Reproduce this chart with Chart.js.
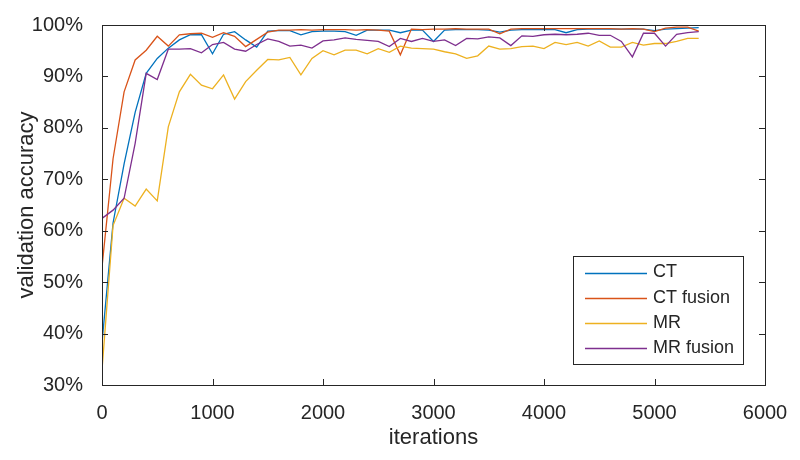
<!DOCTYPE html>
<html>
<head>
<meta charset="utf-8">
<script src="https://cdn.jsdelivr.net/npm/chart.js@4.4.1/dist/chart.umd.min.js"></script>
<style>
  html, body { margin: 0; padding: 0; background: #fff; }
  #wrap { width: 800px; height: 460px; position: relative; }
</style>
</head>
<body>
<div id="wrap"><canvas id="accChart"></canvas></div>
<script>
// x values (iterations)
const iterations = [0, 100, 200, 300, 400, 500, 600, 700, 800, 900,
  1000, 1100, 1200, 1300, 1400, 1500, 1600, 1700, 1800, 1900,
  2000, 2100, 2200, 2300, 2400, 2500, 2600, 2700, 2800, 2900,
  3000, 3100, 3200, 3300, 3400, 3500, 3600, 3700, 3800, 3900,
  4000, 4100, 4200, 4300, 4400, 4500, 4600, 4700, 4800, 4900,
  5000, 5100, 5200, 5300, 5400];

// validation accuracy (%)
const ct = [38.2, 61.5, 73.0, 83.0, 90.6, 93.5, 95.5, 97.1, 98.1, 98.1,
  94.4, 98.2, 98.7, 97.1, 95.7, 98.8, 98.9, 98.9, 98.1, 98.7,
  98.8, 98.8, 98.7, 98.0, 99.0, 99.0, 99.0, 98.5, 99.0, 99.0,
  96.8, 99.0, 99.1, 99.1, 99.1, 99.0, 98.6, 99.0, 99.1, 99.1,
  99.1, 99.1, 98.5, 99.1, 99.2, 99.2, 99.2, 99.2, 99.2, 99.2,
  98.9, 99.2, 99.3, 99.4, 99.5];
const ctFusion = [52.9, 74.0, 87.0, 93.2, 95.1, 97.8, 95.9, 98.1, 98.3, 98.4,
  97.6, 98.5, 97.8, 95.8, 97.2, 98.6, 99.0, 99.0, 99.1, 99.0,
  99.1, 99.1, 99.1, 99.0, 99.1, 99.0, 98.8, 94.2, 99.2, 99.1,
  99.2, 99.2, 99.3, 99.2, 99.2, 99.2, 98.3, 99.2, 99.3, 99.3,
  99.3, 99.3, 99.3, 99.3, 99.3, 99.3, 99.3, 99.2, 99.3, 99.2,
  98.7, 99.4, 99.6, 99.6, 98.8];
const mr = [32.9, 61.0, 66.3, 64.8, 68.1, 65.8, 80.2, 87.0, 90.4, 88.3,
  87.6, 90.3, 85.6, 89.0, 91.2, 93.3, 93.2, 93.7, 90.3, 93.5,
  95.0, 94.2, 95.1, 95.1, 94.4, 95.4, 94.7, 95.9, 95.5, 95.4,
  95.3, 94.8, 94.4, 93.5, 94.0, 95.9, 95.3, 95.4, 95.8, 95.9,
  95.4, 96.6, 96.2, 96.6, 95.9, 96.9, 95.7, 95.7, 96.6, 96.1,
  96.4, 96.4, 96.8, 97.4, 97.4];
const mrFusion = [62.4, 64.0, 66.3, 77.0, 90.6, 89.4, 95.3, 95.3, 95.4, 94.6,
  96.2, 96.6, 95.3, 94.9, 96.2, 97.3, 96.8, 95.9, 96.1, 95.5,
  96.9, 97.1, 97.5, 97.2, 97.0, 96.8, 95.8, 97.4, 96.8, 97.4,
  96.8, 97.1, 96.0, 97.4, 97.3, 97.7, 97.5, 96.0, 97.9, 97.8,
  98.1, 98.2, 98.1, 98.2, 98.4, 98.0, 98.0, 96.8, 93.8, 98.4,
  98.4, 95.9, 98.2, 98.5, 98.7];

const seriesNames = ['CT', 'CT fusion', 'MR', 'MR fusion'];
const seriesColors = ['#0072BD', '#D95319', '#EDB120', '#7E2F8E'];
const seriesValues = [ct, ctFusion, mr, mrFusion];

const FONT = '"Liberation Sans", Arial, Helvetica, sans-serif';
const INK = '#262626';

// box frame + inward ticks on all four sides (matlab style)
const boxTicks = {
  id: 'boxTicks',
  afterDatasetsDraw(chart) {
    const { ctx, chartArea: a, scales: { x, y } } = chart;
    const len = 6;
    ctx.save();
    ctx.strokeStyle = INK;
    ctx.lineWidth = 1;
    ctx.beginPath();
    x.ticks.forEach(t => {
      const px = Math.round(x.getPixelForValue(t.value)) + 0.5;
      ctx.moveTo(px, a.bottom); ctx.lineTo(px, a.bottom - len);
      ctx.moveTo(px, a.top); ctx.lineTo(px, a.top + len);
    });
    y.ticks.forEach(t => {
      const py = Math.round(y.getPixelForValue(t.value)) + 0.5;
      ctx.moveTo(a.left, py); ctx.lineTo(a.left + len, py);
      ctx.moveTo(a.right, py); ctx.lineTo(a.right - len, py);
    });
    ctx.stroke();
    ctx.strokeRect(Math.round(a.left) + 0.5, Math.round(a.top) + 0.5,
      Math.round(a.right - a.left), Math.round(a.bottom - a.top));
    ctx.restore();
  }
};

// legend box in lower right of the axes
const boxLegend = {
  id: 'boxLegend',
  afterDraw(chart) {
    const { ctx } = chart;
    const bx = 573, by = 256, bw = 170, bh = 108;
    ctx.save();
    ctx.fillStyle = '#fff';
    ctx.fillRect(bx, by, bw, bh);
    ctx.strokeStyle = INK;
    ctx.lineWidth = 1;
    ctx.strokeRect(bx + 0.5, by + 0.5, bw, bh);
    ctx.font = '18px ' + FONT;
    ctx.textBaseline = 'middle';
    chart.data.datasets.forEach((ds, i) => {
      const yy = by + 16.5 + i * 25.3;
      ctx.strokeStyle = ds.borderColor;
      ctx.lineWidth = 1.3;
      ctx.beginPath();
      ctx.moveTo(bx + 12, Math.round(yy) + 0.5);
      ctx.lineTo(bx + 74, Math.round(yy) + 0.5);
      ctx.stroke();
      ctx.fillStyle = INK;
      ctx.fillText(ds.label, bx + 80, yy);
    });
    ctx.restore();
  }
};

const ctx = document.getElementById('accChart').getContext('2d');
new Chart(ctx, {
  type: 'line',
  data: {
    labels: iterations,
    datasets: seriesNames.map((name, i) => ({
      label: name,
      data: iterations.map((it, k) => ({ x: it, y: seriesValues[i][k] })),
      borderColor: seriesColors[i],
      backgroundColor: seriesColors[i],
      borderWidth: 1.3,
      pointRadius: 0,
      tension: 0,
      fill: false,
      order: seriesNames.length - i
    }))
  },
  options: {
    responsive: true,
    maintainAspectRatio: false,
    animation: false,
    events: [],
    layout: { padding: { top: 25, right: 35, left: 0, bottom: 0 } },
    plugins: { legend: { display: false }, tooltip: { enabled: false } },
    scales: {
      x: {
        type: 'linear',
        min: 0, max: 6000,
        grid: { display: false },
        border: { display: false },
        ticks: { stepSize: 1000, color: INK, padding: 8, maxRotation: 0,
                 font: { family: FONT, size: 20 },
                 callback: v => String(v) },
        title: { display: true, text: 'iterations', color: INK,
                 padding: { top: 0, bottom: 9 },
                 font: { family: FONT, size: 22 } },
        afterFit: s => { s.height = 75; }
      },
      y: {
        min: 30, max: 100,
        grid: { display: false },
        border: { display: false },
        ticks: { stepSize: 10, color: INK, padding: 11,
                 font: { family: FONT, size: 20 },
                 callback: v => v + '%' },
        title: { display: true, text: 'validation accuracy', color: INK,
                 padding: { top: 14, bottom: 0 },
                 font: { family: FONT, size: 22 } },
        afterFit: s => { s.width = 102; }
      }
    }
  },
  plugins: [boxTicks, boxLegend]
});
</script>
</body>
</html>
